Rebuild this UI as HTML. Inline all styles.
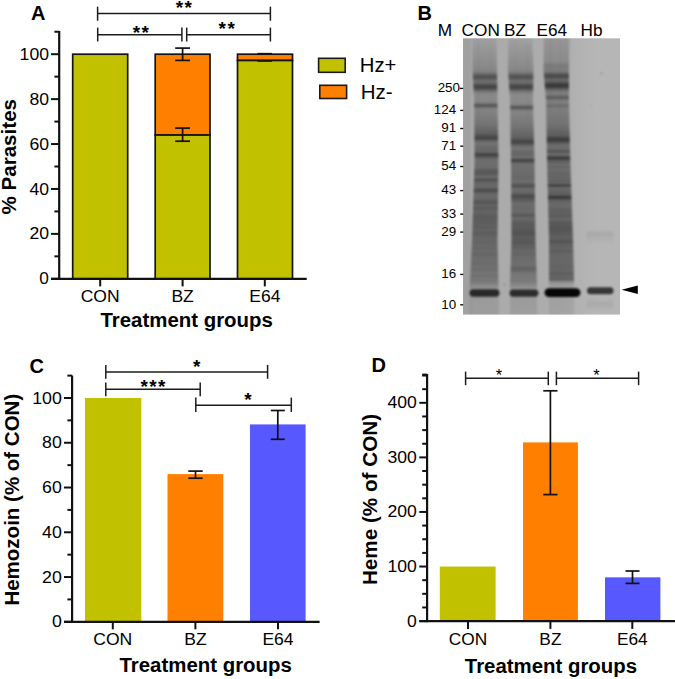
<!DOCTYPE html>
<html><head><meta charset="utf-8"><style>
html,body{margin:0;padding:0;background:#fff;}
svg{display:block;}
text{font-family:"Liberation Sans",sans-serif;fill:#000;}
</style></head><body>
<svg width="675" height="679" viewBox="0 0 675 679">
<defs>
<clipPath id="gclip"><rect x="463" y="38.3" width="157" height="276.3"/></clipPath>
<linearGradient id="gshade" x1="0" y1="0" x2="1" y2="0"><stop offset="0" stop-color="#000" stop-opacity="0.07"/><stop offset="0.6" stop-color="#000" stop-opacity="0.05"/><stop offset="0.8" stop-color="#000" stop-opacity="0.0"/></linearGradient>
<filter id="gblur" x="-10%" y="-10%" width="120%" height="120%"><feGaussianBlur stdDeviation="1.1 0.9"/></filter>
</defs>
<rect width="675" height="679" fill="#fff"/>
<text x="31.00" y="20.00" font-size="20" text-anchor="start" font-weight="bold">A</text>
<rect x="72.70" y="54.20" width="55.00" height="224.60" fill="#c1c100" stroke="#141414" stroke-width="1.7"/>
<rect x="155.20" y="54.20" width="54.80" height="80.86" fill="#ff8000" stroke="#141414" stroke-width="1.7"/>
<rect x="155.20" y="135.06" width="54.80" height="143.74" fill="#c1c100" stroke="#141414" stroke-width="1.7"/>
<rect x="237.50" y="54.20" width="55.00" height="6.29" fill="#ff8000" stroke="#141414" stroke-width="1.7"/>
<rect x="237.50" y="60.49" width="55.00" height="218.31" fill="#c1c100" stroke="#141414" stroke-width="1.7"/>
<line x1="182.60" y1="128.10" x2="182.60" y2="141.20" stroke="#111" stroke-width="1.7"/>
<line x1="175.20" y1="128.10" x2="190.00" y2="128.10" stroke="#111" stroke-width="1.7"/>
<line x1="175.20" y1="141.20" x2="190.00" y2="141.20" stroke="#111" stroke-width="1.7"/>
<line x1="182.60" y1="48.10" x2="182.60" y2="60.40" stroke="#111" stroke-width="1.7"/>
<line x1="175.20" y1="48.10" x2="190.00" y2="48.10" stroke="#111" stroke-width="1.7"/>
<line x1="175.20" y1="60.40" x2="190.00" y2="60.40" stroke="#111" stroke-width="1.7"/>
<line x1="257.40" y1="53.70" x2="271.90" y2="53.70" stroke="#111" stroke-width="1.7"/>
<line x1="257.40" y1="60.90" x2="271.90" y2="60.90" stroke="#111" stroke-width="1.7"/>
<line x1="59.20" y1="31.00" x2="59.20" y2="279.90" stroke="#111" stroke-width="2.2"/>
<line x1="51.00" y1="278.80" x2="306.70" y2="278.80" stroke="#111" stroke-width="2.2"/>
<line x1="51.00" y1="278.80" x2="59.20" y2="278.80" stroke="#111" stroke-width="2.0"/>
<line x1="54.40" y1="256.34" x2="59.20" y2="256.34" stroke="#111" stroke-width="2.0"/>
<line x1="51.00" y1="233.88" x2="59.20" y2="233.88" stroke="#111" stroke-width="2.0"/>
<text x="49.00" y="239.48" font-size="16.3" text-anchor="end" textLength="19.58" lengthAdjust="spacingAndGlyphs">20</text>
<line x1="54.40" y1="211.42" x2="59.20" y2="211.42" stroke="#111" stroke-width="2.0"/>
<line x1="51.00" y1="188.96" x2="59.20" y2="188.96" stroke="#111" stroke-width="2.0"/>
<text x="49.00" y="194.56" font-size="16.3" text-anchor="end" textLength="19.58" lengthAdjust="spacingAndGlyphs">40</text>
<line x1="54.40" y1="166.50" x2="59.20" y2="166.50" stroke="#111" stroke-width="2.0"/>
<line x1="51.00" y1="144.04" x2="59.20" y2="144.04" stroke="#111" stroke-width="2.0"/>
<text x="49.00" y="149.64" font-size="16.3" text-anchor="end" textLength="19.58" lengthAdjust="spacingAndGlyphs">60</text>
<line x1="54.40" y1="121.58" x2="59.20" y2="121.58" stroke="#111" stroke-width="2.0"/>
<line x1="51.00" y1="99.12" x2="59.20" y2="99.12" stroke="#111" stroke-width="2.0"/>
<text x="49.00" y="104.72" font-size="16.3" text-anchor="end" textLength="19.58" lengthAdjust="spacingAndGlyphs">80</text>
<line x1="54.40" y1="76.66" x2="59.20" y2="76.66" stroke="#111" stroke-width="2.0"/>
<line x1="51.00" y1="54.20" x2="59.20" y2="54.20" stroke="#111" stroke-width="2.0"/>
<text x="49.00" y="59.80" font-size="16.3" text-anchor="end" textLength="29.37" lengthAdjust="spacingAndGlyphs">100</text>
<line x1="54.40" y1="31.74" x2="59.20" y2="31.74" stroke="#111" stroke-width="2.0"/>
<text x="49.00" y="284.40" font-size="16.3" text-anchor="end" textLength="9.61" lengthAdjust="spacingAndGlyphs">0</text>
<line x1="100.20" y1="278.80" x2="100.20" y2="286.40" stroke="#111" stroke-width="2.0"/>
<line x1="182.60" y1="278.80" x2="182.60" y2="286.40" stroke="#111" stroke-width="2.0"/>
<line x1="264.80" y1="278.80" x2="264.80" y2="286.40" stroke="#111" stroke-width="2.0"/>
<text x="100.20" y="302.00" font-size="16.3" text-anchor="middle" textLength="38.94" lengthAdjust="spacingAndGlyphs">CON</text>
<text x="182.60" y="302.00" font-size="16.3" text-anchor="middle" textLength="22.39" lengthAdjust="spacingAndGlyphs">BZ</text>
<text x="264.80" y="302.00" font-size="16.3" text-anchor="middle" textLength="31.18" lengthAdjust="spacingAndGlyphs">E64</text>
<text x="100.50" y="327.20" font-size="20" text-anchor="start" font-weight="bold" textLength="172.30" lengthAdjust="spacingAndGlyphs">Treatment groups</text>
<text transform="translate(16.30,214.60) rotate(-90)" font-size="20" font-weight="bold" textLength="115.67" lengthAdjust="spacingAndGlyphs">% Parasites</text>
<line x1="97.60" y1="13.50" x2="270.40" y2="13.50" stroke="#1c1c1c" stroke-width="1.5"/>
<line x1="97.60" y1="6.70" x2="97.60" y2="20.70" stroke="#1c1c1c" stroke-width="1.5"/>
<line x1="270.40" y1="6.70" x2="270.40" y2="20.70" stroke="#1c1c1c" stroke-width="1.5"/>
<line x1="97.70" y1="34.80" x2="181.90" y2="34.80" stroke="#1c1c1c" stroke-width="1.5"/>
<line x1="97.70" y1="27.60" x2="97.70" y2="41.50" stroke="#1c1c1c" stroke-width="1.5"/>
<line x1="181.90" y1="27.60" x2="181.90" y2="41.50" stroke="#1c1c1c" stroke-width="1.5"/>
<line x1="186.70" y1="34.80" x2="270.40" y2="34.80" stroke="#1c1c1c" stroke-width="1.5"/>
<line x1="186.70" y1="27.60" x2="186.70" y2="41.50" stroke="#1c1c1c" stroke-width="1.5"/>
<line x1="270.40" y1="27.60" x2="270.40" y2="41.50" stroke="#1c1c1c" stroke-width="1.5"/>
<text x="184.50" y="14.20" font-size="19" text-anchor="middle" font-weight="bold" letter-spacing="1.4">**</text>
<text x="141.50" y="39.00" font-size="19" text-anchor="middle" font-weight="bold" letter-spacing="1.4">**</text>
<text x="227.40" y="35.40" font-size="19" text-anchor="middle" font-weight="bold" letter-spacing="1.4">**</text>
<rect x="318.60" y="58.30" width="26.60" height="14.00" fill="#c1c100" stroke="#1a1a1a" stroke-width="1.6"/>
<rect x="319.80" y="85.30" width="26.80" height="13.20" fill="#ff8000" stroke="#1a1a1a" stroke-width="1.6"/>
<text x="359.80" y="72.20" font-size="19.5" text-anchor="start" textLength="36.63" lengthAdjust="spacingAndGlyphs">Hz+</text>
<text x="360.80" y="98.80" font-size="19.5" text-anchor="start" textLength="31.84" lengthAdjust="spacingAndGlyphs">Hz-</text>
<text x="417.50" y="20.00" font-size="20" text-anchor="start" font-weight="bold">B</text>
<text x="437.80" y="35.60" font-size="17.2" text-anchor="start">M</text>
<text x="461.60" y="35.60" font-size="17.2" text-anchor="start">CON</text>
<text x="504.00" y="35.60" font-size="17.2" text-anchor="start">BZ</text>
<text x="536.60" y="35.60" font-size="17.2" text-anchor="start">E64</text>
<text x="580.50" y="35.60" font-size="17.2" text-anchor="start">Hb</text>
<rect x="463.0" y="38.3" width="157.0" height="276.3" fill="rgb(182,182,182)"/><g clip-path="url(#gclip)"><g filter="url(#gblur)"><rect x="472.3" y="34" width="24.2" height="1" fill-opacity="0.060"/><rect x="472.3" y="35" width="24.2" height="1" fill-opacity="0.060"/><rect x="472.3" y="36" width="24.2" height="1" fill-opacity="0.060"/><rect x="472.3" y="37" width="24.2" height="1" fill-opacity="0.060"/><rect x="472.3" y="38" width="24.2" height="1" fill-opacity="0.062"/><rect x="472.3" y="39" width="24.2" height="1" fill-opacity="0.068"/><rect x="472.3" y="40" width="24.2" height="1" fill-opacity="0.072"/><rect x="472.3" y="41" width="24.2" height="1" fill-opacity="0.077"/><rect x="472.3" y="42" width="24.2" height="1" fill-opacity="0.082"/><rect x="472.3" y="43" width="24.3" height="1" fill-opacity="0.087"/><rect x="472.3" y="44" width="24.3" height="1" fill-opacity="0.092"/><rect x="472.3" y="45" width="24.3" height="1" fill-opacity="0.097"/><rect x="472.4" y="46" width="24.3" height="1" fill-opacity="0.102"/><rect x="472.4" y="47" width="24.3" height="1" fill-opacity="0.106"/><rect x="472.4" y="48" width="24.3" height="1" fill-opacity="0.111"/><rect x="472.4" y="49" width="24.3" height="1" fill-opacity="0.116"/><rect x="472.4" y="50" width="24.3" height="1" fill-opacity="0.120"/><rect x="472.4" y="51" width="24.3" height="1" fill-opacity="0.125"/><rect x="472.4" y="52" width="24.3" height="1" fill-opacity="0.129"/><rect x="472.4" y="53" width="24.3" height="1" fill-opacity="0.134"/><rect x="472.4" y="54" width="24.4" height="1" fill-opacity="0.139"/><rect x="472.4" y="55" width="24.4" height="1" fill-opacity="0.143"/><rect x="472.4" y="56" width="24.4" height="1" fill-opacity="0.148"/><rect x="472.4" y="57" width="24.4" height="1" fill-opacity="0.153"/><rect x="472.4" y="58" width="24.4" height="1" fill-opacity="0.157"/><rect x="472.4" y="59" width="24.4" height="1" fill-opacity="0.162"/><rect x="472.4" y="60" width="24.4" height="1" fill-opacity="0.167"/><rect x="472.4" y="61" width="24.4" height="1" fill-opacity="0.171"/><rect x="472.5" y="62" width="24.4" height="1" fill-opacity="0.176"/><rect x="472.5" y="63" width="24.4" height="1" fill-opacity="0.181"/><rect x="472.5" y="64" width="24.4" height="1" fill-opacity="0.185"/><rect x="472.5" y="65" width="24.5" height="1" fill-opacity="0.190"/><rect x="472.5" y="66" width="24.5" height="1" fill-opacity="0.195"/><rect x="472.5" y="67" width="24.5" height="1" fill-opacity="0.199"/><rect x="472.5" y="68" width="24.5" height="1" fill-opacity="0.205"/><rect x="472.5" y="69" width="24.5" height="1" fill-opacity="0.213"/><rect x="472.5" y="70" width="24.5" height="1" fill-opacity="0.225"/><rect x="472.6" y="71" width="24.4" height="1" fill-opacity="0.249"/><rect x="472.6" y="72" width="24.4" height="1" fill-opacity="0.286"/><rect x="472.7" y="73" width="24.4" height="1" fill-opacity="0.341"/><rect x="472.7" y="74" width="24.3" height="1" fill-opacity="0.413"/><rect x="472.8" y="75" width="24.3" height="1" fill-opacity="0.482"/><rect x="472.8" y="76" width="24.3" height="1" fill-opacity="0.526"/><rect x="472.9" y="77" width="24.2" height="1" fill-opacity="0.525"/><rect x="472.9" y="78" width="24.2" height="1" fill-opacity="0.483"/><rect x="473.0" y="79" width="24.2" height="1" fill-opacity="0.420"/><rect x="473.0" y="80" width="24.2" height="1" fill-opacity="0.366"/><rect x="473.1" y="81" width="24.1" height="1" fill-opacity="0.344"/><rect x="473.1" y="82" width="24.1" height="1" fill-opacity="0.363"/><rect x="473.2" y="83" width="24.1" height="1" fill-opacity="0.419"/><rect x="473.2" y="84" width="24.0" height="1" fill-opacity="0.494"/><rect x="473.3" y="85" width="24.0" height="1" fill-opacity="0.564"/><rect x="473.3" y="86" width="23.9" height="1" fill-opacity="0.605"/><rect x="473.4" y="87" width="23.9" height="1" fill-opacity="0.603"/><rect x="473.4" y="88" width="23.9" height="1" fill-opacity="0.557"/><rect x="473.5" y="89" width="23.8" height="1" fill-opacity="0.480"/><rect x="473.5" y="90" width="23.8" height="1" fill-opacity="0.393"/><rect x="473.6" y="91" width="23.8" height="1" fill-opacity="0.314"/><rect x="473.6" y="92" width="23.8" height="1" fill-opacity="0.257"/><rect x="473.7" y="93" width="23.7" height="1" fill-opacity="0.222"/><rect x="473.7" y="94" width="23.7" height="1" fill-opacity="0.204"/><rect x="473.8" y="95" width="23.7" height="1" fill-opacity="0.196"/><rect x="473.8" y="96" width="23.6" height="1" fill-opacity="0.194"/><rect x="473.9" y="97" width="23.6" height="1" fill-opacity="0.195"/><rect x="473.9" y="98" width="23.6" height="1" fill-opacity="0.196"/><rect x="474.0" y="99" width="23.5" height="1" fill-opacity="0.199"/><rect x="474.0" y="100" width="23.5" height="1" fill-opacity="0.202"/><rect x="474.0" y="101" width="23.5" height="1" fill-opacity="0.210"/><rect x="474.0" y="102" width="23.5" height="1" fill-opacity="0.240"/><rect x="474.0" y="103" width="23.5" height="1" fill-opacity="0.322"/><rect x="474.0" y="104" width="23.5" height="1" fill-opacity="0.449"/><rect x="474.0" y="105" width="23.5" height="1" fill-opacity="0.518"/><rect x="474.1" y="106" width="23.6" height="1" fill-opacity="0.455"/><rect x="474.1" y="107" width="23.6" height="1" fill-opacity="0.335"/><rect x="474.1" y="108" width="23.6" height="1" fill-opacity="0.260"/><rect x="474.1" y="109" width="23.6" height="1" fill-opacity="0.237"/><rect x="474.1" y="110" width="23.6" height="1" fill-opacity="0.236"/><rect x="474.1" y="111" width="23.6" height="1" fill-opacity="0.238"/><rect x="474.1" y="112" width="23.6" height="1" fill-opacity="0.243"/><rect x="474.1" y="113" width="23.6" height="1" fill-opacity="0.250"/><rect x="474.1" y="114" width="23.6" height="1" fill-opacity="0.257"/><rect x="474.1" y="115" width="23.6" height="1" fill-opacity="0.263"/><rect x="474.1" y="116" width="23.6" height="1" fill-opacity="0.270"/><rect x="474.1" y="117" width="23.6" height="1" fill-opacity="0.277"/><rect x="474.2" y="118" width="23.7" height="1" fill-opacity="0.283"/><rect x="474.2" y="119" width="23.7" height="1" fill-opacity="0.290"/><rect x="474.2" y="120" width="23.7" height="1" fill-opacity="0.297"/><rect x="474.2" y="121" width="23.7" height="1" fill-opacity="0.303"/><rect x="474.2" y="122" width="23.7" height="1" fill-opacity="0.310"/><rect x="474.2" y="123" width="23.7" height="1" fill-opacity="0.317"/><rect x="474.2" y="124" width="23.7" height="1" fill-opacity="0.326"/><rect x="474.2" y="125" width="23.7" height="1" fill-opacity="0.339"/><rect x="474.2" y="126" width="23.7" height="1" fill-opacity="0.351"/><rect x="474.2" y="127" width="23.7" height="1" fill-opacity="0.364"/><rect x="474.2" y="128" width="23.7" height="1" fill-opacity="0.376"/><rect x="474.2" y="129" width="23.7" height="1" fill-opacity="0.389"/><rect x="474.3" y="130" width="23.8" height="1" fill-opacity="0.401"/><rect x="474.3" y="131" width="23.8" height="1" fill-opacity="0.414"/><rect x="474.3" y="132" width="23.8" height="1" fill-opacity="0.428"/><rect x="474.3" y="133" width="23.8" height="1" fill-opacity="0.445"/><rect x="474.3" y="134" width="23.8" height="1" fill-opacity="0.470"/><rect x="474.3" y="135" width="23.8" height="1" fill-opacity="0.511"/><rect x="474.3" y="136" width="23.8" height="1" fill-opacity="0.564"/><rect x="474.3" y="137" width="23.8" height="1" fill-opacity="0.609"/><rect x="474.3" y="138" width="23.8" height="1" fill-opacity="0.597"/><rect x="474.3" y="139" width="23.8" height="1" fill-opacity="0.530"/><rect x="474.3" y="140" width="23.8" height="1" fill-opacity="0.454"/><rect x="474.3" y="141" width="23.8" height="1" fill-opacity="0.391"/><rect x="474.4" y="142" width="23.9" height="1" fill-opacity="0.343"/><rect x="474.4" y="143" width="23.9" height="1" fill-opacity="0.320"/><rect x="474.4" y="144" width="23.9" height="1" fill-opacity="0.324"/><rect x="474.4" y="145" width="23.9" height="1" fill-opacity="0.377"/><rect x="474.4" y="146" width="23.9" height="1" fill-opacity="0.389"/><rect x="474.4" y="147" width="23.9" height="1" fill-opacity="0.351"/><rect x="474.4" y="148" width="23.9" height="1" fill-opacity="0.384"/><rect x="474.4" y="149" width="23.9" height="1" fill-opacity="0.416"/><rect x="474.4" y="150" width="23.9" height="1" fill-opacity="0.390"/><rect x="474.4" y="151" width="23.9" height="1" fill-opacity="0.373"/><rect x="474.4" y="152" width="23.9" height="1" fill-opacity="0.426"/><rect x="474.4" y="153" width="23.9" height="1" fill-opacity="0.561"/><rect x="474.5" y="154" width="24.0" height="1" fill-opacity="0.643"/><rect x="474.5" y="155" width="24.0" height="1" fill-opacity="0.576"/><rect x="474.5" y="156" width="24.0" height="1" fill-opacity="0.511"/><rect x="474.5" y="157" width="24.0" height="1" fill-opacity="0.463"/><rect x="474.5" y="158" width="24.0" height="1" fill-opacity="0.405"/><rect x="474.5" y="159" width="24.0" height="1" fill-opacity="0.365"/><rect x="474.5" y="160" width="24.0" height="1" fill-opacity="0.353"/><rect x="474.5" y="161" width="24.0" height="1" fill-opacity="0.358"/><rect x="474.4" y="162" width="24.0" height="1" fill-opacity="0.360"/><rect x="474.4" y="163" width="24.1" height="1" fill-opacity="0.361"/><rect x="474.4" y="164" width="24.1" height="1" fill-opacity="0.362"/><rect x="474.3" y="165" width="24.1" height="1" fill-opacity="0.363"/><rect x="474.3" y="166" width="24.1" height="1" fill-opacity="0.364"/><rect x="474.3" y="167" width="24.1" height="1" fill-opacity="0.366"/><rect x="474.2" y="168" width="24.2" height="1" fill-opacity="0.383"/><rect x="474.2" y="169" width="24.2" height="1" fill-opacity="0.431"/><rect x="474.2" y="170" width="24.2" height="1" fill-opacity="0.495"/><rect x="474.1" y="171" width="24.2" height="1" fill-opacity="0.495"/><rect x="474.1" y="172" width="24.2" height="1" fill-opacity="0.438"/><rect x="474.1" y="173" width="24.3" height="1" fill-opacity="0.494"/><rect x="474.0" y="174" width="24.3" height="1" fill-opacity="0.500"/><rect x="474.0" y="175" width="24.3" height="1" fill-opacity="0.383"/><rect x="474.0" y="176" width="24.3" height="1" fill-opacity="0.376"/><rect x="474.0" y="177" width="24.3" height="1" fill-opacity="0.396"/><rect x="473.9" y="178" width="24.3" height="1" fill-opacity="0.454"/><rect x="473.9" y="179" width="24.4" height="1" fill-opacity="0.523"/><rect x="473.9" y="180" width="24.4" height="1" fill-opacity="0.524"/><rect x="473.8" y="181" width="24.4" height="1" fill-opacity="0.456"/><rect x="473.8" y="182" width="24.4" height="1" fill-opacity="0.400"/><rect x="473.8" y="183" width="24.4" height="1" fill-opacity="0.384"/><rect x="473.7" y="184" width="24.5" height="1" fill-opacity="0.421"/><rect x="473.7" y="185" width="24.5" height="1" fill-opacity="0.386"/><rect x="473.7" y="186" width="24.5" height="1" fill-opacity="0.384"/><rect x="473.6" y="187" width="24.5" height="1" fill-opacity="0.400"/><rect x="473.6" y="188" width="24.5" height="1" fill-opacity="0.449"/><rect x="473.6" y="189" width="24.6" height="1" fill-opacity="0.537"/><rect x="473.5" y="190" width="24.6" height="1" fill-opacity="0.580"/><rect x="473.5" y="191" width="24.6" height="1" fill-opacity="0.526"/><rect x="473.5" y="192" width="24.6" height="1" fill-opacity="0.452"/><rect x="473.5" y="193" width="24.6" height="1" fill-opacity="0.405"/><rect x="473.4" y="194" width="24.6" height="1" fill-opacity="0.390"/><rect x="473.4" y="195" width="24.7" height="1" fill-opacity="0.388"/><rect x="473.4" y="196" width="24.7" height="1" fill-opacity="0.389"/><rect x="473.3" y="197" width="24.7" height="1" fill-opacity="0.390"/><rect x="473.3" y="198" width="24.7" height="1" fill-opacity="0.400"/><rect x="473.3" y="199" width="24.7" height="1" fill-opacity="0.426"/><rect x="473.2" y="200" width="24.8" height="1" fill-opacity="0.446"/><rect x="473.2" y="201" width="24.8" height="1" fill-opacity="0.483"/><rect x="473.2" y="202" width="24.8" height="1" fill-opacity="0.514"/><rect x="473.1" y="203" width="24.8" height="1" fill-opacity="0.480"/><rect x="473.1" y="204" width="24.8" height="1" fill-opacity="0.426"/><rect x="473.1" y="205" width="24.9" height="1" fill-opacity="0.408"/><rect x="473.0" y="206" width="24.9" height="1" fill-opacity="0.437"/><rect x="473.0" y="207" width="24.9" height="1" fill-opacity="0.454"/><rect x="473.0" y="208" width="24.9" height="1" fill-opacity="0.487"/><rect x="473.0" y="209" width="24.9" height="1" fill-opacity="0.443"/><rect x="472.9" y="210" width="24.9" height="1" fill-opacity="0.412"/><rect x="472.9" y="211" width="25.0" height="1" fill-opacity="0.414"/><rect x="472.9" y="212" width="25.0" height="1" fill-opacity="0.419"/><rect x="472.8" y="213" width="25.0" height="1" fill-opacity="0.425"/><rect x="472.8" y="214" width="25.0" height="1" fill-opacity="0.436"/><rect x="472.8" y="215" width="25.0" height="1" fill-opacity="0.464"/><rect x="472.7" y="216" width="25.1" height="1" fill-opacity="0.477"/><rect x="472.7" y="217" width="25.1" height="1" fill-opacity="0.459"/><rect x="472.7" y="218" width="25.1" height="1" fill-opacity="0.458"/><rect x="472.6" y="219" width="25.1" height="1" fill-opacity="0.460"/><rect x="472.6" y="220" width="25.1" height="1" fill-opacity="0.460"/><rect x="472.6" y="221" width="25.2" height="1" fill-opacity="0.457"/><rect x="472.5" y="222" width="25.2" height="1" fill-opacity="0.453"/><rect x="472.5" y="223" width="25.2" height="1" fill-opacity="0.447"/><rect x="472.5" y="224" width="25.2" height="1" fill-opacity="0.440"/><rect x="472.5" y="225" width="25.2" height="1" fill-opacity="0.433"/><rect x="472.4" y="226" width="25.2" height="1" fill-opacity="0.441"/><rect x="472.4" y="227" width="25.3" height="1" fill-opacity="0.474"/><rect x="472.4" y="228" width="25.3" height="1" fill-opacity="0.430"/><rect x="472.3" y="229" width="25.3" height="1" fill-opacity="0.413"/><rect x="472.3" y="230" width="25.3" height="1" fill-opacity="0.425"/><rect x="472.3" y="231" width="25.3" height="1" fill-opacity="0.431"/><rect x="472.2" y="232" width="25.4" height="1" fill-opacity="0.456"/><rect x="472.2" y="233" width="25.4" height="1" fill-opacity="0.461"/><rect x="472.2" y="234" width="25.4" height="1" fill-opacity="0.431"/><rect x="472.1" y="235" width="25.4" height="1" fill-opacity="0.438"/><rect x="472.1" y="236" width="25.4" height="1" fill-opacity="0.416"/><rect x="472.1" y="237" width="25.5" height="1" fill-opacity="0.401"/><rect x="472.0" y="238" width="25.5" height="1" fill-opacity="0.400"/><rect x="472.0" y="239" width="25.5" height="1" fill-opacity="0.400"/><rect x="472.0" y="240" width="25.5" height="1" fill-opacity="0.400"/><rect x="471.9" y="241" width="25.6" height="1" fill-opacity="0.416"/><rect x="471.9" y="242" width="25.7" height="1" fill-opacity="0.413"/><rect x="471.8" y="243" width="25.7" height="1" fill-opacity="0.394"/><rect x="471.8" y="244" width="25.8" height="1" fill-opacity="0.391"/><rect x="471.8" y="245" width="25.9" height="1" fill-opacity="0.389"/><rect x="471.7" y="246" width="25.9" height="1" fill-opacity="0.387"/><rect x="471.7" y="247" width="26.0" height="1" fill-opacity="0.386"/><rect x="471.6" y="248" width="26.1" height="1" fill-opacity="0.404"/><rect x="471.6" y="249" width="26.1" height="1" fill-opacity="0.392"/><rect x="471.5" y="250" width="26.2" height="1" fill-opacity="0.379"/><rect x="471.5" y="251" width="26.3" height="1" fill-opacity="0.377"/><rect x="471.4" y="252" width="26.3" height="1" fill-opacity="0.377"/><rect x="471.4" y="253" width="26.4" height="1" fill-opacity="0.402"/><rect x="471.4" y="254" width="26.5" height="1" fill-opacity="0.405"/><rect x="471.3" y="255" width="26.5" height="1" fill-opacity="0.404"/><rect x="471.3" y="256" width="26.6" height="1" fill-opacity="0.369"/><rect x="471.2" y="257" width="26.7" height="1" fill-opacity="0.365"/><rect x="471.2" y="258" width="26.7" height="1" fill-opacity="0.363"/><rect x="471.1" y="259" width="26.8" height="1" fill-opacity="0.361"/><rect x="471.1" y="260" width="26.9" height="1" fill-opacity="0.359"/><rect x="471.0" y="261" width="26.9" height="1" fill-opacity="0.357"/><rect x="471.0" y="262" width="27.0" height="1" fill-opacity="0.357"/><rect x="471.0" y="263" width="27.1" height="1" fill-opacity="0.376"/><rect x="470.9" y="264" width="27.1" height="1" fill-opacity="0.359"/><rect x="470.9" y="265" width="27.2" height="1" fill-opacity="0.349"/><rect x="470.8" y="266" width="27.3" height="1" fill-opacity="0.347"/><rect x="470.8" y="267" width="27.3" height="1" fill-opacity="0.347"/><rect x="470.7" y="268" width="27.4" height="1" fill-opacity="0.357"/><rect x="470.7" y="269" width="27.5" height="1" fill-opacity="0.368"/><rect x="470.6" y="270" width="27.5" height="1" fill-opacity="0.349"/><rect x="470.6" y="271" width="27.6" height="1" fill-opacity="0.332"/><rect x="470.6" y="272" width="27.7" height="1" fill-opacity="0.325"/><rect x="470.5" y="273" width="27.7" height="1" fill-opacity="0.319"/><rect x="470.5" y="274" width="27.8" height="1" fill-opacity="0.316"/><rect x="470.4" y="275" width="27.9" height="1" fill-opacity="0.335"/><rect x="470.4" y="276" width="27.9" height="1" fill-opacity="0.357"/><rect x="470.3" y="277" width="28.0" height="1" fill-opacity="0.311"/><rect x="470.3" y="278" width="28.1" height="1" fill-opacity="0.299"/><rect x="470.2" y="279" width="28.1" height="1" fill-opacity="0.307"/><rect x="470.2" y="280" width="28.2" height="1" fill-opacity="0.297"/><rect x="470.2" y="281" width="28.3" height="1" fill-opacity="0.304"/><rect x="470.1" y="282" width="28.3" height="1" fill-opacity="0.277"/><rect x="470.1" y="283" width="28.4" height="1" fill-opacity="0.240"/><rect x="470.0" y="284" width="28.5" height="1" fill-opacity="0.220"/><rect x="470.0" y="285" width="28.5" height="1" fill-opacity="0.207"/><rect x="470.0" y="286" width="28.5" height="1" fill-opacity="0.183"/><rect x="470.0" y="287" width="28.5" height="1" fill-opacity="0.150"/><rect x="470.0" y="288" width="28.6" height="1" fill-opacity="0.117"/><rect x="470.0" y="289" width="28.6" height="1" fill-opacity="0.100"/><rect x="470.0" y="290" width="28.6" height="1" fill-opacity="0.099"/><rect x="470.0" y="291" width="28.6" height="1" fill-opacity="0.098"/><rect x="470.0" y="292" width="28.6" height="1" fill-opacity="0.097"/><rect x="470.0" y="293" width="28.6" height="1" fill-opacity="0.097"/><rect x="470.0" y="294" width="28.7" height="1" fill-opacity="0.096"/><rect x="470.0" y="295" width="28.7" height="1" fill-opacity="0.095"/><rect x="470.0" y="296" width="28.7" height="1" fill-opacity="0.094"/><rect x="470.0" y="297" width="28.7" height="1" fill-opacity="0.093"/><rect x="470.0" y="298" width="28.7" height="1" fill-opacity="0.093"/><rect x="470.0" y="299" width="28.7" height="1" fill-opacity="0.092"/><rect x="470.0" y="300" width="28.8" height="1" fill-opacity="0.091"/><rect x="470.0" y="301" width="28.8" height="1" fill-opacity="0.090"/><rect x="470.0" y="302" width="28.8" height="1" fill-opacity="0.090"/><rect x="470.0" y="303" width="28.8" height="1" fill-opacity="0.089"/><rect x="470.0" y="304" width="28.8" height="1" fill-opacity="0.088"/><rect x="470.0" y="305" width="28.8" height="1" fill-opacity="0.087"/><rect x="470.0" y="306" width="28.9" height="1" fill-opacity="0.087"/><rect x="470.0" y="307" width="28.9" height="1" fill-opacity="0.086"/><rect x="470.0" y="308" width="28.9" height="1" fill-opacity="0.085"/><rect x="470.0" y="309" width="28.9" height="1" fill-opacity="0.084"/><rect x="470.0" y="310" width="28.9" height="1" fill-opacity="0.083"/><rect x="470.0" y="311" width="28.9" height="1" fill-opacity="0.083"/><rect x="470.0" y="312" width="29.0" height="1" fill-opacity="0.082"/><rect x="470.0" y="313" width="29.0" height="1" fill-opacity="0.081"/><rect x="470.0" y="314" width="29.0" height="1" fill-opacity="0.080"/><rect x="470.0" y="315" width="29.0" height="1" fill-opacity="0.080"/><rect x="470.0" y="316" width="29.0" height="1" fill-opacity="0.080"/><rect x="470.0" y="317" width="29.0" height="1" fill-opacity="0.080"/><rect x="508.2" y="34" width="24.2" height="1" fill-opacity="0.060"/><rect x="508.2" y="35" width="24.2" height="1" fill-opacity="0.060"/><rect x="508.2" y="36" width="24.2" height="1" fill-opacity="0.060"/><rect x="508.2" y="37" width="24.2" height="1" fill-opacity="0.060"/><rect x="508.2" y="38" width="24.2" height="1" fill-opacity="0.062"/><rect x="508.2" y="39" width="24.3" height="1" fill-opacity="0.068"/><rect x="508.2" y="40" width="24.3" height="1" fill-opacity="0.072"/><rect x="508.2" y="41" width="24.3" height="1" fill-opacity="0.077"/><rect x="508.2" y="42" width="24.4" height="1" fill-opacity="0.082"/><rect x="508.2" y="43" width="24.4" height="1" fill-opacity="0.087"/><rect x="508.2" y="44" width="24.5" height="1" fill-opacity="0.092"/><rect x="508.2" y="45" width="24.5" height="1" fill-opacity="0.097"/><rect x="508.1" y="46" width="24.5" height="1" fill-opacity="0.102"/><rect x="508.1" y="47" width="24.6" height="1" fill-opacity="0.106"/><rect x="508.1" y="48" width="24.6" height="1" fill-opacity="0.111"/><rect x="508.1" y="49" width="24.7" height="1" fill-opacity="0.116"/><rect x="508.1" y="50" width="24.7" height="1" fill-opacity="0.120"/><rect x="508.1" y="51" width="24.7" height="1" fill-opacity="0.125"/><rect x="508.1" y="52" width="24.8" height="1" fill-opacity="0.129"/><rect x="508.1" y="53" width="24.8" height="1" fill-opacity="0.134"/><rect x="508.1" y="54" width="24.9" height="1" fill-opacity="0.139"/><rect x="508.1" y="55" width="24.9" height="1" fill-opacity="0.143"/><rect x="508.1" y="56" width="25.0" height="1" fill-opacity="0.148"/><rect x="508.1" y="57" width="25.0" height="1" fill-opacity="0.153"/><rect x="508.1" y="58" width="25.0" height="1" fill-opacity="0.157"/><rect x="508.1" y="59" width="25.1" height="1" fill-opacity="0.162"/><rect x="508.1" y="60" width="25.1" height="1" fill-opacity="0.167"/><rect x="508.1" y="61" width="25.2" height="1" fill-opacity="0.171"/><rect x="508.0" y="62" width="25.2" height="1" fill-opacity="0.176"/><rect x="508.0" y="63" width="25.2" height="1" fill-opacity="0.181"/><rect x="508.0" y="64" width="25.3" height="1" fill-opacity="0.185"/><rect x="508.0" y="65" width="25.3" height="1" fill-opacity="0.190"/><rect x="508.0" y="66" width="25.4" height="1" fill-opacity="0.195"/><rect x="508.0" y="67" width="25.4" height="1" fill-opacity="0.199"/><rect x="508.0" y="68" width="25.4" height="1" fill-opacity="0.205"/><rect x="508.0" y="69" width="25.5" height="1" fill-opacity="0.213"/><rect x="508.0" y="70" width="25.5" height="1" fill-opacity="0.225"/><rect x="508.1" y="71" width="25.4" height="1" fill-opacity="0.249"/><rect x="508.2" y="72" width="25.3" height="1" fill-opacity="0.286"/><rect x="508.2" y="73" width="25.2" height="1" fill-opacity="0.341"/><rect x="508.3" y="74" width="25.1" height="1" fill-opacity="0.413"/><rect x="508.4" y="75" width="25.0" height="1" fill-opacity="0.482"/><rect x="508.4" y="76" width="25.0" height="1" fill-opacity="0.526"/><rect x="508.5" y="77" width="24.9" height="1" fill-opacity="0.525"/><rect x="508.6" y="78" width="24.8" height="1" fill-opacity="0.483"/><rect x="508.6" y="79" width="24.7" height="1" fill-opacity="0.420"/><rect x="508.7" y="80" width="24.6" height="1" fill-opacity="0.366"/><rect x="508.8" y="81" width="24.5" height="1" fill-opacity="0.344"/><rect x="508.8" y="82" width="24.5" height="1" fill-opacity="0.363"/><rect x="508.9" y="83" width="24.4" height="1" fill-opacity="0.419"/><rect x="509.0" y="84" width="24.3" height="1" fill-opacity="0.494"/><rect x="509.0" y="85" width="24.2" height="1" fill-opacity="0.564"/><rect x="509.1" y="86" width="24.1" height="1" fill-opacity="0.605"/><rect x="509.2" y="87" width="24.0" height="1" fill-opacity="0.603"/><rect x="509.2" y="88" width="24.0" height="1" fill-opacity="0.557"/><rect x="509.3" y="89" width="23.9" height="1" fill-opacity="0.480"/><rect x="509.4" y="90" width="23.8" height="1" fill-opacity="0.393"/><rect x="509.4" y="91" width="23.7" height="1" fill-opacity="0.314"/><rect x="509.5" y="92" width="23.6" height="1" fill-opacity="0.257"/><rect x="509.6" y="93" width="23.5" height="1" fill-opacity="0.222"/><rect x="509.6" y="94" width="23.5" height="1" fill-opacity="0.204"/><rect x="509.7" y="95" width="23.4" height="1" fill-opacity="0.196"/><rect x="509.8" y="96" width="23.3" height="1" fill-opacity="0.194"/><rect x="509.8" y="97" width="23.2" height="1" fill-opacity="0.195"/><rect x="509.9" y="98" width="23.1" height="1" fill-opacity="0.196"/><rect x="510.0" y="99" width="23.0" height="1" fill-opacity="0.199"/><rect x="510.0" y="100" width="23.0" height="1" fill-opacity="0.201"/><rect x="510.0" y="101" width="23.0" height="1" fill-opacity="0.204"/><rect x="510.0" y="102" width="23.0" height="1" fill-opacity="0.208"/><rect x="510.1" y="103" width="23.0" height="1" fill-opacity="0.215"/><rect x="510.1" y="104" width="23.0" height="1" fill-opacity="0.244"/><rect x="510.1" y="105" width="23.0" height="1" fill-opacity="0.326"/><rect x="510.1" y="106" width="23.1" height="1" fill-opacity="0.452"/><rect x="510.1" y="107" width="23.1" height="1" fill-opacity="0.521"/><rect x="510.1" y="108" width="23.1" height="1" fill-opacity="0.458"/><rect x="510.2" y="109" width="23.1" height="1" fill-opacity="0.338"/><rect x="510.2" y="110" width="23.1" height="1" fill-opacity="0.262"/><rect x="510.2" y="111" width="23.1" height="1" fill-opacity="0.238"/><rect x="510.2" y="112" width="23.1" height="1" fill-opacity="0.236"/><rect x="510.2" y="113" width="23.1" height="1" fill-opacity="0.239"/><rect x="510.2" y="114" width="23.1" height="1" fill-opacity="0.243"/><rect x="510.3" y="115" width="23.1" height="1" fill-opacity="0.250"/><rect x="510.3" y="116" width="23.1" height="1" fill-opacity="0.257"/><rect x="510.3" y="117" width="23.1" height="1" fill-opacity="0.263"/><rect x="510.3" y="118" width="23.2" height="1" fill-opacity="0.270"/><rect x="510.3" y="119" width="23.2" height="1" fill-opacity="0.277"/><rect x="510.3" y="120" width="23.2" height="1" fill-opacity="0.283"/><rect x="510.4" y="121" width="23.2" height="1" fill-opacity="0.290"/><rect x="510.4" y="122" width="23.2" height="1" fill-opacity="0.297"/><rect x="510.4" y="123" width="23.2" height="1" fill-opacity="0.303"/><rect x="510.4" y="124" width="23.2" height="1" fill-opacity="0.310"/><rect x="510.4" y="125" width="23.2" height="1" fill-opacity="0.317"/><rect x="510.4" y="126" width="23.2" height="1" fill-opacity="0.325"/><rect x="510.5" y="127" width="23.2" height="1" fill-opacity="0.335"/><rect x="510.5" y="128" width="23.2" height="1" fill-opacity="0.345"/><rect x="510.5" y="129" width="23.2" height="1" fill-opacity="0.355"/><rect x="510.5" y="130" width="23.3" height="1" fill-opacity="0.365"/><rect x="510.5" y="131" width="23.3" height="1" fill-opacity="0.375"/><rect x="510.5" y="132" width="23.3" height="1" fill-opacity="0.385"/><rect x="510.6" y="133" width="23.3" height="1" fill-opacity="0.395"/><rect x="510.6" y="134" width="23.3" height="1" fill-opacity="0.405"/><rect x="510.6" y="135" width="23.3" height="1" fill-opacity="0.415"/><rect x="510.6" y="136" width="23.3" height="1" fill-opacity="0.428"/><rect x="510.6" y="137" width="23.3" height="1" fill-opacity="0.445"/><rect x="510.6" y="138" width="23.3" height="1" fill-opacity="0.470"/><rect x="510.7" y="139" width="23.3" height="1" fill-opacity="0.511"/><rect x="510.7" y="140" width="23.3" height="1" fill-opacity="0.564"/><rect x="510.7" y="141" width="23.3" height="1" fill-opacity="0.609"/><rect x="510.7" y="142" width="23.4" height="1" fill-opacity="0.600"/><rect x="510.7" y="143" width="23.4" height="1" fill-opacity="0.539"/><rect x="510.7" y="144" width="23.4" height="1" fill-opacity="0.469"/><rect x="510.8" y="145" width="23.4" height="1" fill-opacity="0.412"/><rect x="510.8" y="146" width="23.4" height="1" fill-opacity="0.370"/><rect x="510.8" y="147" width="23.4" height="1" fill-opacity="0.336"/><rect x="510.8" y="148" width="23.4" height="1" fill-opacity="0.319"/><rect x="510.8" y="149" width="23.4" height="1" fill-opacity="0.323"/><rect x="510.8" y="150" width="23.4" height="1" fill-opacity="0.366"/><rect x="510.9" y="151" width="23.4" height="1" fill-opacity="0.422"/><rect x="510.9" y="152" width="23.4" height="1" fill-opacity="0.389"/><rect x="510.9" y="153" width="23.4" height="1" fill-opacity="0.356"/><rect x="510.9" y="154" width="23.5" height="1" fill-opacity="0.454"/><rect x="510.9" y="155" width="23.5" height="1" fill-opacity="0.378"/><rect x="510.9" y="156" width="23.5" height="1" fill-opacity="0.331"/><rect x="511.0" y="157" width="23.5" height="1" fill-opacity="0.363"/><rect x="511.0" y="158" width="23.5" height="1" fill-opacity="0.432"/><rect x="511.0" y="159" width="23.5" height="1" fill-opacity="0.545"/><rect x="511.0" y="160" width="23.5" height="1" fill-opacity="0.634"/><rect x="511.0" y="161" width="23.5" height="1" fill-opacity="0.579"/><rect x="511.0" y="162" width="23.5" height="1" fill-opacity="0.454"/><rect x="511.0" y="163" width="23.5" height="1" fill-opacity="0.378"/><rect x="511.0" y="164" width="23.5" height="1" fill-opacity="0.358"/><rect x="511.0" y="165" width="23.5" height="1" fill-opacity="0.358"/><rect x="511.0" y="166" width="23.5" height="1" fill-opacity="0.360"/><rect x="511.0" y="167" width="23.5" height="1" fill-opacity="0.361"/><rect x="511.1" y="168" width="23.6" height="1" fill-opacity="0.361"/><rect x="511.1" y="169" width="23.6" height="1" fill-opacity="0.362"/><rect x="511.1" y="170" width="23.6" height="1" fill-opacity="0.363"/><rect x="511.1" y="171" width="23.6" height="1" fill-opacity="0.375"/><rect x="511.1" y="172" width="23.6" height="1" fill-opacity="0.390"/><rect x="511.1" y="173" width="23.6" height="1" fill-opacity="0.369"/><rect x="511.1" y="174" width="23.6" height="1" fill-opacity="0.365"/><rect x="511.1" y="175" width="23.6" height="1" fill-opacity="0.388"/><rect x="511.1" y="176" width="23.6" height="1" fill-opacity="0.405"/><rect x="511.1" y="177" width="23.6" height="1" fill-opacity="0.390"/><rect x="511.1" y="178" width="23.6" height="1" fill-opacity="0.402"/><rect x="511.1" y="179" width="23.6" height="1" fill-opacity="0.372"/><rect x="511.1" y="180" width="23.6" height="1" fill-opacity="0.367"/><rect x="511.1" y="181" width="23.6" height="1" fill-opacity="0.368"/><rect x="511.1" y="182" width="23.6" height="1" fill-opacity="0.373"/><rect x="511.1" y="183" width="23.6" height="1" fill-opacity="0.423"/><rect x="511.2" y="184" width="23.7" height="1" fill-opacity="0.471"/><rect x="511.2" y="185" width="23.7" height="1" fill-opacity="0.531"/><rect x="511.2" y="186" width="23.7" height="1" fill-opacity="0.529"/><rect x="511.2" y="187" width="23.7" height="1" fill-opacity="0.457"/><rect x="511.2" y="188" width="23.7" height="1" fill-opacity="0.393"/><rect x="511.2" y="189" width="23.7" height="1" fill-opacity="0.374"/><rect x="511.2" y="190" width="23.7" height="1" fill-opacity="0.376"/><rect x="511.2" y="191" width="23.7" height="1" fill-opacity="0.392"/><rect x="511.2" y="192" width="23.7" height="1" fill-opacity="0.405"/><rect x="511.2" y="193" width="23.7" height="1" fill-opacity="0.433"/><rect x="511.2" y="194" width="23.7" height="1" fill-opacity="0.505"/><rect x="511.2" y="195" width="23.7" height="1" fill-opacity="0.574"/><rect x="511.2" y="196" width="23.7" height="1" fill-opacity="0.572"/><rect x="511.2" y="197" width="23.7" height="1" fill-opacity="0.528"/><rect x="511.2" y="198" width="23.7" height="1" fill-opacity="0.501"/><rect x="511.2" y="199" width="23.7" height="1" fill-opacity="0.479"/><rect x="511.3" y="200" width="23.8" height="1" fill-opacity="0.457"/><rect x="511.3" y="201" width="23.8" height="1" fill-opacity="0.433"/><rect x="511.3" y="202" width="23.8" height="1" fill-opacity="0.392"/><rect x="511.3" y="203" width="23.8" height="1" fill-opacity="0.378"/><rect x="511.3" y="204" width="23.8" height="1" fill-opacity="0.378"/><rect x="511.3" y="205" width="23.8" height="1" fill-opacity="0.378"/><rect x="511.3" y="206" width="23.8" height="1" fill-opacity="0.382"/><rect x="511.3" y="207" width="23.8" height="1" fill-opacity="0.396"/><rect x="511.3" y="208" width="23.8" height="1" fill-opacity="0.400"/><rect x="511.3" y="209" width="23.8" height="1" fill-opacity="0.386"/><rect x="511.3" y="210" width="23.8" height="1" fill-opacity="0.381"/><rect x="511.3" y="211" width="23.8" height="1" fill-opacity="0.382"/><rect x="511.3" y="212" width="23.8" height="1" fill-opacity="0.391"/><rect x="511.3" y="213" width="23.8" height="1" fill-opacity="0.430"/><rect x="511.3" y="214" width="23.8" height="1" fill-opacity="0.452"/><rect x="511.3" y="215" width="23.8" height="1" fill-opacity="0.520"/><rect x="511.4" y="216" width="23.9" height="1" fill-opacity="0.442"/><rect x="511.4" y="217" width="23.9" height="1" fill-opacity="0.398"/><rect x="511.4" y="218" width="23.9" height="1" fill-opacity="0.397"/><rect x="511.4" y="219" width="23.9" height="1" fill-opacity="0.400"/><rect x="511.4" y="220" width="23.9" height="1" fill-opacity="0.410"/><rect x="511.4" y="221" width="23.9" height="1" fill-opacity="0.446"/><rect x="511.4" y="222" width="23.9" height="1" fill-opacity="0.467"/><rect x="511.4" y="223" width="23.9" height="1" fill-opacity="0.466"/><rect x="511.4" y="224" width="23.9" height="1" fill-opacity="0.460"/><rect x="511.4" y="225" width="23.9" height="1" fill-opacity="0.473"/><rect x="511.4" y="226" width="23.9" height="1" fill-opacity="0.465"/><rect x="511.4" y="227" width="23.9" height="1" fill-opacity="0.470"/><rect x="511.4" y="228" width="23.9" height="1" fill-opacity="0.483"/><rect x="511.4" y="229" width="23.9" height="1" fill-opacity="0.483"/><rect x="511.4" y="230" width="23.9" height="1" fill-opacity="0.510"/><rect x="511.4" y="231" width="23.9" height="1" fill-opacity="0.489"/><rect x="511.5" y="232" width="24.0" height="1" fill-opacity="0.521"/><rect x="511.5" y="233" width="24.0" height="1" fill-opacity="0.523"/><rect x="511.5" y="234" width="24.0" height="1" fill-opacity="0.512"/><rect x="511.5" y="235" width="24.0" height="1" fill-opacity="0.482"/><rect x="511.5" y="236" width="24.0" height="1" fill-opacity="0.476"/><rect x="511.5" y="237" width="24.0" height="1" fill-opacity="0.471"/><rect x="511.5" y="238" width="24.0" height="1" fill-opacity="0.470"/><rect x="511.5" y="239" width="24.0" height="1" fill-opacity="0.487"/><rect x="511.5" y="240" width="24.0" height="1" fill-opacity="0.474"/><rect x="511.4" y="241" width="24.1" height="1" fill-opacity="0.480"/><rect x="511.4" y="242" width="24.2" height="1" fill-opacity="0.500"/><rect x="511.4" y="243" width="24.2" height="1" fill-opacity="0.496"/><rect x="511.4" y="244" width="24.3" height="1" fill-opacity="0.459"/><rect x="511.3" y="245" width="24.4" height="1" fill-opacity="0.442"/><rect x="511.3" y="246" width="24.4" height="1" fill-opacity="0.436"/><rect x="511.2" y="247" width="24.5" height="1" fill-opacity="0.448"/><rect x="511.2" y="248" width="24.6" height="1" fill-opacity="0.432"/><rect x="511.2" y="249" width="24.6" height="1" fill-opacity="0.419"/><rect x="511.1" y="250" width="24.7" height="1" fill-opacity="0.394"/><rect x="511.1" y="251" width="24.8" height="1" fill-opacity="0.390"/><rect x="511.1" y="252" width="24.8" height="1" fill-opacity="0.391"/><rect x="511.1" y="253" width="24.9" height="1" fill-opacity="0.407"/><rect x="511.0" y="254" width="25.0" height="1" fill-opacity="0.418"/><rect x="511.0" y="255" width="25.0" height="1" fill-opacity="0.394"/><rect x="510.9" y="256" width="25.1" height="1" fill-opacity="0.378"/><rect x="510.9" y="257" width="25.2" height="1" fill-opacity="0.373"/><rect x="510.9" y="258" width="25.2" height="1" fill-opacity="0.371"/><rect x="510.9" y="259" width="25.3" height="1" fill-opacity="0.368"/><rect x="510.8" y="260" width="25.4" height="1" fill-opacity="0.365"/><rect x="510.8" y="261" width="25.4" height="1" fill-opacity="0.363"/><rect x="510.8" y="262" width="25.5" height="1" fill-opacity="0.360"/><rect x="510.7" y="263" width="25.6" height="1" fill-opacity="0.357"/><rect x="510.7" y="264" width="25.6" height="1" fill-opacity="0.355"/><rect x="510.6" y="265" width="25.7" height="1" fill-opacity="0.355"/><rect x="510.6" y="266" width="25.8" height="1" fill-opacity="0.374"/><rect x="510.6" y="267" width="25.8" height="1" fill-opacity="0.433"/><rect x="510.6" y="268" width="25.9" height="1" fill-opacity="0.427"/><rect x="510.5" y="269" width="26.0" height="1" fill-opacity="0.422"/><rect x="510.5" y="270" width="26.0" height="1" fill-opacity="0.425"/><rect x="510.4" y="271" width="26.1" height="1" fill-opacity="0.372"/><rect x="510.4" y="272" width="26.2" height="1" fill-opacity="0.329"/><rect x="510.4" y="273" width="26.2" height="1" fill-opacity="0.319"/><rect x="510.4" y="274" width="26.3" height="1" fill-opacity="0.313"/><rect x="510.3" y="275" width="26.4" height="1" fill-opacity="0.307"/><rect x="510.3" y="276" width="26.4" height="1" fill-opacity="0.301"/><rect x="510.2" y="277" width="26.5" height="1" fill-opacity="0.295"/><rect x="510.2" y="278" width="26.6" height="1" fill-opacity="0.289"/><rect x="510.2" y="279" width="26.6" height="1" fill-opacity="0.290"/><rect x="510.1" y="280" width="26.7" height="1" fill-opacity="0.306"/><rect x="510.1" y="281" width="26.8" height="1" fill-opacity="0.298"/><rect x="510.1" y="282" width="26.8" height="1" fill-opacity="0.258"/><rect x="510.1" y="283" width="26.9" height="1" fill-opacity="0.234"/><rect x="510.0" y="284" width="27.0" height="1" fill-opacity="0.220"/><rect x="510.0" y="285" width="27.0" height="1" fill-opacity="0.207"/><rect x="510.0" y="286" width="27.0" height="1" fill-opacity="0.183"/><rect x="510.0" y="287" width="27.0" height="1" fill-opacity="0.150"/><rect x="510.0" y="288" width="27.0" height="1" fill-opacity="0.117"/><rect x="510.0" y="289" width="27.0" height="1" fill-opacity="0.100"/><rect x="510.0" y="290" width="27.0" height="1" fill-opacity="0.099"/><rect x="510.0" y="291" width="27.0" height="1" fill-opacity="0.098"/><rect x="510.0" y="292" width="27.0" height="1" fill-opacity="0.097"/><rect x="510.0" y="293" width="27.0" height="1" fill-opacity="0.097"/><rect x="510.0" y="294" width="27.0" height="1" fill-opacity="0.096"/><rect x="510.0" y="295" width="27.0" height="1" fill-opacity="0.095"/><rect x="510.0" y="296" width="27.0" height="1" fill-opacity="0.094"/><rect x="510.0" y="297" width="27.0" height="1" fill-opacity="0.093"/><rect x="510.0" y="298" width="27.0" height="1" fill-opacity="0.093"/><rect x="510.0" y="299" width="27.0" height="1" fill-opacity="0.092"/><rect x="510.0" y="300" width="27.0" height="1" fill-opacity="0.091"/><rect x="510.0" y="301" width="27.0" height="1" fill-opacity="0.090"/><rect x="510.0" y="302" width="27.0" height="1" fill-opacity="0.090"/><rect x="510.0" y="303" width="27.0" height="1" fill-opacity="0.089"/><rect x="510.0" y="304" width="27.0" height="1" fill-opacity="0.088"/><rect x="510.0" y="305" width="27.0" height="1" fill-opacity="0.087"/><rect x="510.0" y="306" width="27.0" height="1" fill-opacity="0.087"/><rect x="510.0" y="307" width="27.0" height="1" fill-opacity="0.086"/><rect x="510.0" y="308" width="27.0" height="1" fill-opacity="0.085"/><rect x="510.0" y="309" width="27.0" height="1" fill-opacity="0.084"/><rect x="510.0" y="310" width="27.0" height="1" fill-opacity="0.083"/><rect x="510.0" y="311" width="27.0" height="1" fill-opacity="0.083"/><rect x="510.0" y="312" width="27.0" height="1" fill-opacity="0.082"/><rect x="510.0" y="313" width="27.0" height="1" fill-opacity="0.081"/><rect x="510.0" y="314" width="27.0" height="1" fill-opacity="0.080"/><rect x="510.0" y="315" width="27.0" height="1" fill-opacity="0.080"/><rect x="510.0" y="316" width="27.0" height="1" fill-opacity="0.080"/><rect x="510.0" y="317" width="27.0" height="1" fill-opacity="0.080"/><rect x="543.8" y="34" width="25.7" height="1" fill-opacity="0.130"/><rect x="543.8" y="35" width="25.7" height="1" fill-opacity="0.130"/><rect x="543.8" y="36" width="25.7" height="1" fill-opacity="0.130"/><rect x="543.8" y="37" width="25.7" height="1" fill-opacity="0.130"/><rect x="543.8" y="38" width="25.7" height="1" fill-opacity="0.132"/><rect x="543.8" y="39" width="25.7" height="1" fill-opacity="0.135"/><rect x="543.8" y="40" width="25.7" height="1" fill-opacity="0.138"/><rect x="543.8" y="41" width="25.7" height="1" fill-opacity="0.142"/><rect x="543.8" y="42" width="25.7" height="1" fill-opacity="0.145"/><rect x="543.7" y="43" width="25.7" height="1" fill-opacity="0.148"/><rect x="543.7" y="44" width="25.7" height="1" fill-opacity="0.151"/><rect x="543.7" y="45" width="25.7" height="1" fill-opacity="0.154"/><rect x="543.7" y="46" width="25.6" height="1" fill-opacity="0.156"/><rect x="543.7" y="47" width="25.6" height="1" fill-opacity="0.159"/><rect x="543.7" y="48" width="25.6" height="1" fill-opacity="0.161"/><rect x="543.7" y="49" width="25.6" height="1" fill-opacity="0.164"/><rect x="543.7" y="50" width="25.6" height="1" fill-opacity="0.166"/><rect x="543.7" y="51" width="25.6" height="1" fill-opacity="0.169"/><rect x="543.7" y="52" width="25.6" height="1" fill-opacity="0.171"/><rect x="543.7" y="53" width="25.6" height="1" fill-opacity="0.174"/><rect x="543.6" y="54" width="25.6" height="1" fill-opacity="0.176"/><rect x="543.6" y="55" width="25.6" height="1" fill-opacity="0.179"/><rect x="543.6" y="56" width="25.6" height="1" fill-opacity="0.181"/><rect x="543.6" y="57" width="25.6" height="1" fill-opacity="0.184"/><rect x="543.6" y="58" width="25.6" height="1" fill-opacity="0.186"/><rect x="543.6" y="59" width="25.6" height="1" fill-opacity="0.189"/><rect x="543.6" y="60" width="25.6" height="1" fill-opacity="0.193"/><rect x="543.6" y="61" width="25.6" height="1" fill-opacity="0.201"/><rect x="543.6" y="62" width="25.5" height="1" fill-opacity="0.217"/><rect x="543.6" y="63" width="25.5" height="1" fill-opacity="0.245"/><rect x="543.6" y="64" width="25.5" height="1" fill-opacity="0.276"/><rect x="543.5" y="65" width="25.5" height="1" fill-opacity="0.293"/><rect x="543.5" y="66" width="25.5" height="1" fill-opacity="0.285"/><rect x="543.5" y="67" width="25.5" height="1" fill-opacity="0.272"/><rect x="543.5" y="68" width="25.5" height="1" fill-opacity="0.287"/><rect x="543.5" y="69" width="25.5" height="1" fill-opacity="0.285"/><rect x="543.5" y="70" width="25.5" height="1" fill-opacity="0.270"/><rect x="543.6" y="71" width="25.4" height="1" fill-opacity="0.298"/><rect x="543.7" y="72" width="25.3" height="1" fill-opacity="0.358"/><rect x="543.8" y="73" width="25.2" height="1" fill-opacity="0.440"/><rect x="543.9" y="74" width="25.1" height="1" fill-opacity="0.523"/><rect x="544.0" y="75" width="25.0" height="1" fill-opacity="0.577"/><rect x="544.0" y="76" width="25.0" height="1" fill-opacity="0.580"/><rect x="544.1" y="77" width="24.9" height="1" fill-opacity="0.533"/><rect x="544.2" y="78" width="24.8" height="1" fill-opacity="0.465"/><rect x="544.3" y="79" width="24.7" height="1" fill-opacity="0.412"/><rect x="544.4" y="80" width="24.6" height="1" fill-opacity="0.400"/><rect x="544.5" y="81" width="24.5" height="1" fill-opacity="0.436"/><rect x="544.5" y="82" width="24.5" height="1" fill-opacity="0.510"/><rect x="544.6" y="83" width="24.4" height="1" fill-opacity="0.597"/><rect x="544.7" y="84" width="24.3" height="1" fill-opacity="0.666"/><rect x="544.8" y="85" width="24.2" height="1" fill-opacity="0.694"/><rect x="544.9" y="86" width="24.1" height="1" fill-opacity="0.668"/><rect x="545.0" y="87" width="24.0" height="1" fill-opacity="0.598"/><rect x="545.0" y="88" width="24.0" height="1" fill-opacity="0.507"/><rect x="545.1" y="89" width="23.9" height="1" fill-opacity="0.419"/><rect x="545.2" y="90" width="23.8" height="1" fill-opacity="0.351"/><rect x="545.3" y="91" width="23.7" height="1" fill-opacity="0.306"/><rect x="545.4" y="92" width="23.6" height="1" fill-opacity="0.281"/><rect x="545.5" y="93" width="23.5" height="1" fill-opacity="0.271"/><rect x="545.5" y="94" width="23.5" height="1" fill-opacity="0.279"/><rect x="545.6" y="95" width="23.4" height="1" fill-opacity="0.329"/><rect x="545.7" y="96" width="23.3" height="1" fill-opacity="0.427"/><rect x="545.8" y="97" width="23.2" height="1" fill-opacity="0.486"/><rect x="545.9" y="98" width="23.1" height="1" fill-opacity="0.429"/><rect x="546.0" y="99" width="23.0" height="1" fill-opacity="0.332"/><rect x="546.0" y="100" width="23.0" height="1" fill-opacity="0.283"/><rect x="546.0" y="101" width="23.0" height="1" fill-opacity="0.272"/><rect x="546.0" y="102" width="23.0" height="1" fill-opacity="0.272"/><rect x="546.1" y="103" width="23.0" height="1" fill-opacity="0.279"/><rect x="546.1" y="104" width="23.0" height="1" fill-opacity="0.323"/><rect x="546.1" y="105" width="23.0" height="1" fill-opacity="0.390"/><rect x="546.1" y="106" width="23.0" height="1" fill-opacity="0.364"/><rect x="546.1" y="107" width="23.0" height="1" fill-opacity="0.297"/><rect x="546.1" y="108" width="23.0" height="1" fill-opacity="0.279"/><rect x="546.2" y="109" width="23.0" height="1" fill-opacity="0.279"/><rect x="546.2" y="110" width="23.1" height="1" fill-opacity="0.282"/><rect x="546.2" y="111" width="23.1" height="1" fill-opacity="0.286"/><rect x="546.2" y="112" width="23.1" height="1" fill-opacity="0.291"/><rect x="546.2" y="113" width="23.1" height="1" fill-opacity="0.295"/><rect x="546.2" y="114" width="23.1" height="1" fill-opacity="0.299"/><rect x="546.3" y="115" width="23.1" height="1" fill-opacity="0.304"/><rect x="546.3" y="116" width="23.1" height="1" fill-opacity="0.308"/><rect x="546.3" y="117" width="23.1" height="1" fill-opacity="0.312"/><rect x="546.3" y="118" width="23.1" height="1" fill-opacity="0.316"/><rect x="546.3" y="119" width="23.1" height="1" fill-opacity="0.321"/><rect x="546.3" y="120" width="23.1" height="1" fill-opacity="0.325"/><rect x="546.4" y="121" width="23.1" height="1" fill-opacity="0.329"/><rect x="546.4" y="122" width="23.1" height="1" fill-opacity="0.334"/><rect x="546.4" y="123" width="23.1" height="1" fill-opacity="0.338"/><rect x="546.4" y="124" width="23.1" height="1" fill-opacity="0.345"/><rect x="546.4" y="125" width="23.1" height="1" fill-opacity="0.355"/><rect x="546.4" y="126" width="23.1" height="1" fill-opacity="0.365"/><rect x="546.5" y="127" width="23.1" height="1" fill-opacity="0.375"/><rect x="546.5" y="128" width="23.1" height="1" fill-opacity="0.385"/><rect x="546.5" y="129" width="23.1" height="1" fill-opacity="0.395"/><rect x="546.5" y="130" width="23.2" height="1" fill-opacity="0.405"/><rect x="546.5" y="131" width="23.2" height="1" fill-opacity="0.447"/><rect x="546.5" y="132" width="23.2" height="1" fill-opacity="0.436"/><rect x="546.6" y="133" width="23.2" height="1" fill-opacity="0.435"/><rect x="546.6" y="134" width="23.2" height="1" fill-opacity="0.448"/><rect x="546.6" y="135" width="23.2" height="1" fill-opacity="0.466"/><rect x="546.6" y="136" width="23.2" height="1" fill-opacity="0.505"/><rect x="546.6" y="137" width="23.2" height="1" fill-opacity="0.582"/><rect x="546.6" y="138" width="23.2" height="1" fill-opacity="0.634"/><rect x="546.7" y="139" width="23.2" height="1" fill-opacity="0.658"/><rect x="546.7" y="140" width="23.2" height="1" fill-opacity="0.658"/><rect x="546.7" y="141" width="23.2" height="1" fill-opacity="0.586"/><rect x="546.7" y="142" width="23.2" height="1" fill-opacity="0.521"/><rect x="546.7" y="143" width="23.2" height="1" fill-opacity="0.445"/><rect x="546.7" y="144" width="23.2" height="1" fill-opacity="0.405"/><rect x="546.8" y="145" width="23.2" height="1" fill-opacity="0.374"/><rect x="546.8" y="146" width="23.2" height="1" fill-opacity="0.363"/><rect x="546.8" y="147" width="23.2" height="1" fill-opacity="0.385"/><rect x="546.8" y="148" width="23.2" height="1" fill-opacity="0.384"/><rect x="546.8" y="149" width="23.2" height="1" fill-opacity="0.393"/><rect x="546.8" y="150" width="23.3" height="1" fill-opacity="0.483"/><rect x="546.9" y="151" width="23.3" height="1" fill-opacity="0.544"/><rect x="546.9" y="152" width="23.3" height="1" fill-opacity="0.463"/><rect x="546.9" y="153" width="23.3" height="1" fill-opacity="0.386"/><rect x="546.9" y="154" width="23.3" height="1" fill-opacity="0.375"/><rect x="546.9" y="155" width="23.3" height="1" fill-opacity="0.414"/><rect x="546.9" y="156" width="23.3" height="1" fill-opacity="0.537"/><rect x="547.0" y="157" width="23.3" height="1" fill-opacity="0.668"/><rect x="547.0" y="158" width="23.3" height="1" fill-opacity="0.680"/><rect x="547.0" y="159" width="23.3" height="1" fill-opacity="0.575"/><rect x="547.0" y="160" width="23.3" height="1" fill-opacity="0.468"/><rect x="547.0" y="161" width="23.3" height="1" fill-opacity="0.455"/><rect x="547.1" y="162" width="23.3" height="1" fill-opacity="0.436"/><rect x="547.1" y="163" width="23.3" height="1" fill-opacity="0.403"/><rect x="547.1" y="164" width="23.3" height="1" fill-opacity="0.382"/><rect x="547.1" y="165" width="23.3" height="1" fill-opacity="0.381"/><rect x="547.2" y="166" width="23.4" height="1" fill-opacity="0.417"/><rect x="547.2" y="167" width="23.4" height="1" fill-opacity="0.424"/><rect x="547.2" y="168" width="23.4" height="1" fill-opacity="0.386"/><rect x="547.2" y="169" width="23.4" height="1" fill-opacity="0.380"/><rect x="547.3" y="170" width="23.4" height="1" fill-opacity="0.380"/><rect x="547.3" y="171" width="23.4" height="1" fill-opacity="0.384"/><rect x="547.3" y="172" width="23.4" height="1" fill-opacity="0.406"/><rect x="547.3" y="173" width="23.4" height="1" fill-opacity="0.438"/><rect x="547.4" y="174" width="23.4" height="1" fill-opacity="0.419"/><rect x="547.4" y="175" width="23.4" height="1" fill-opacity="0.397"/><rect x="547.4" y="176" width="23.4" height="1" fill-opacity="0.423"/><rect x="547.4" y="177" width="23.5" height="1" fill-opacity="0.436"/><rect x="547.5" y="178" width="23.5" height="1" fill-opacity="0.401"/><rect x="547.5" y="179" width="23.5" height="1" fill-opacity="0.400"/><rect x="547.5" y="180" width="23.5" height="1" fill-opacity="0.470"/><rect x="547.5" y="181" width="23.5" height="1" fill-opacity="0.444"/><rect x="547.6" y="182" width="23.5" height="1" fill-opacity="0.391"/><rect x="547.6" y="183" width="23.5" height="1" fill-opacity="0.420"/><rect x="547.6" y="184" width="23.5" height="1" fill-opacity="0.575"/><rect x="547.6" y="185" width="23.5" height="1" fill-opacity="0.662"/><rect x="547.7" y="186" width="23.5" height="1" fill-opacity="0.516"/><rect x="547.7" y="187" width="23.5" height="1" fill-opacity="0.408"/><rect x="547.7" y="188" width="23.5" height="1" fill-opacity="0.399"/><rect x="547.7" y="189" width="23.6" height="1" fill-opacity="0.415"/><rect x="547.8" y="190" width="23.6" height="1" fill-opacity="0.411"/><rect x="547.8" y="191" width="23.6" height="1" fill-opacity="0.438"/><rect x="547.8" y="192" width="23.6" height="1" fill-opacity="0.439"/><rect x="547.8" y="193" width="23.6" height="1" fill-opacity="0.453"/><rect x="547.9" y="194" width="23.6" height="1" fill-opacity="0.453"/><rect x="547.9" y="195" width="23.6" height="1" fill-opacity="0.518"/><rect x="547.9" y="196" width="23.6" height="1" fill-opacity="0.640"/><rect x="547.9" y="197" width="23.6" height="1" fill-opacity="0.706"/><rect x="548.0" y="198" width="23.6" height="1" fill-opacity="0.627"/><rect x="548.0" y="199" width="23.6" height="1" fill-opacity="0.521"/><rect x="548.0" y="200" width="23.7" height="1" fill-opacity="0.432"/><rect x="548.0" y="201" width="23.7" height="1" fill-opacity="0.427"/><rect x="548.1" y="202" width="23.7" height="1" fill-opacity="0.424"/><rect x="548.1" y="203" width="23.7" height="1" fill-opacity="0.397"/><rect x="548.1" y="204" width="23.7" height="1" fill-opacity="0.397"/><rect x="548.1" y="205" width="23.7" height="1" fill-opacity="0.398"/><rect x="548.2" y="206" width="23.7" height="1" fill-opacity="0.398"/><rect x="548.2" y="207" width="23.7" height="1" fill-opacity="0.402"/><rect x="548.2" y="208" width="23.7" height="1" fill-opacity="0.427"/><rect x="548.2" y="209" width="23.7" height="1" fill-opacity="0.462"/><rect x="548.3" y="210" width="23.7" height="1" fill-opacity="0.442"/><rect x="548.3" y="211" width="23.8" height="1" fill-opacity="0.444"/><rect x="548.3" y="212" width="23.8" height="1" fill-opacity="0.448"/><rect x="548.3" y="213" width="23.8" height="1" fill-opacity="0.457"/><rect x="548.4" y="214" width="23.8" height="1" fill-opacity="0.435"/><rect x="548.4" y="215" width="23.8" height="1" fill-opacity="0.466"/><rect x="548.4" y="216" width="23.8" height="1" fill-opacity="0.492"/><rect x="548.4" y="217" width="23.8" height="1" fill-opacity="0.441"/><rect x="548.5" y="218" width="23.8" height="1" fill-opacity="0.415"/><rect x="548.5" y="219" width="23.8" height="1" fill-opacity="0.415"/><rect x="548.5" y="220" width="23.8" height="1" fill-opacity="0.423"/><rect x="548.5" y="221" width="23.8" height="1" fill-opacity="0.476"/><rect x="548.6" y="222" width="23.8" height="1" fill-opacity="0.517"/><rect x="548.6" y="223" width="23.9" height="1" fill-opacity="0.495"/><rect x="548.6" y="224" width="23.9" height="1" fill-opacity="0.461"/><rect x="548.6" y="225" width="23.9" height="1" fill-opacity="0.487"/><rect x="548.7" y="226" width="23.9" height="1" fill-opacity="0.520"/><rect x="548.7" y="227" width="23.9" height="1" fill-opacity="0.513"/><rect x="548.7" y="228" width="23.9" height="1" fill-opacity="0.490"/><rect x="548.7" y="229" width="23.9" height="1" fill-opacity="0.512"/><rect x="548.8" y="230" width="23.9" height="1" fill-opacity="0.523"/><rect x="548.8" y="231" width="23.9" height="1" fill-opacity="0.491"/><rect x="548.8" y="232" width="23.9" height="1" fill-opacity="0.485"/><rect x="548.8" y="233" width="23.9" height="1" fill-opacity="0.478"/><rect x="548.9" y="234" width="24.0" height="1" fill-opacity="0.469"/><rect x="548.9" y="235" width="24.0" height="1" fill-opacity="0.460"/><rect x="548.9" y="236" width="24.0" height="1" fill-opacity="0.451"/><rect x="548.9" y="237" width="24.0" height="1" fill-opacity="0.444"/><rect x="549.0" y="238" width="24.0" height="1" fill-opacity="0.465"/><rect x="549.0" y="239" width="24.0" height="1" fill-opacity="0.456"/><rect x="549.0" y="240" width="24.0" height="1" fill-opacity="0.511"/><rect x="549.0" y="241" width="24.0" height="1" fill-opacity="0.518"/><rect x="549.0" y="242" width="24.1" height="1" fill-opacity="0.535"/><rect x="549.0" y="243" width="24.1" height="1" fill-opacity="0.449"/><rect x="549.0" y="244" width="24.1" height="1" fill-opacity="0.435"/><rect x="549.0" y="245" width="24.1" height="1" fill-opacity="0.466"/><rect x="549.0" y="246" width="24.2" height="1" fill-opacity="0.443"/><rect x="549.0" y="247" width="24.2" height="1" fill-opacity="0.418"/><rect x="549.0" y="248" width="24.2" height="1" fill-opacity="0.418"/><rect x="549.0" y="249" width="24.2" height="1" fill-opacity="0.436"/><rect x="549.0" y="250" width="24.3" height="1" fill-opacity="0.471"/><rect x="549.0" y="251" width="24.3" height="1" fill-opacity="0.472"/><rect x="549.0" y="252" width="24.3" height="1" fill-opacity="0.437"/><rect x="549.0" y="253" width="24.3" height="1" fill-opacity="0.416"/><rect x="549.0" y="254" width="24.4" height="1" fill-opacity="0.412"/><rect x="549.0" y="255" width="24.4" height="1" fill-opacity="0.411"/><rect x="549.0" y="256" width="24.4" height="1" fill-opacity="0.411"/><rect x="549.0" y="257" width="24.4" height="1" fill-opacity="0.410"/><rect x="549.0" y="258" width="24.5" height="1" fill-opacity="0.410"/><rect x="549.0" y="259" width="24.5" height="1" fill-opacity="0.409"/><rect x="549.0" y="260" width="24.5" height="1" fill-opacity="0.409"/><rect x="549.0" y="261" width="24.5" height="1" fill-opacity="0.408"/><rect x="549.0" y="262" width="24.6" height="1" fill-opacity="0.408"/><rect x="549.0" y="263" width="24.6" height="1" fill-opacity="0.407"/><rect x="549.0" y="264" width="24.6" height="1" fill-opacity="0.411"/><rect x="549.0" y="265" width="24.6" height="1" fill-opacity="0.429"/><rect x="549.0" y="266" width="24.7" height="1" fill-opacity="0.429"/><rect x="549.0" y="267" width="24.7" height="1" fill-opacity="0.410"/><rect x="549.0" y="268" width="24.7" height="1" fill-opacity="0.424"/><rect x="549.0" y="269" width="24.7" height="1" fill-opacity="0.420"/><rect x="549.0" y="270" width="24.8" height="1" fill-opacity="0.404"/><rect x="549.0" y="271" width="24.8" height="1" fill-opacity="0.414"/><rect x="549.0" y="272" width="24.8" height="1" fill-opacity="0.446"/><rect x="549.0" y="273" width="24.8" height="1" fill-opacity="0.461"/><rect x="549.0" y="274" width="24.9" height="1" fill-opacity="0.465"/><rect x="549.0" y="275" width="24.9" height="1" fill-opacity="0.421"/><rect x="549.0" y="276" width="24.9" height="1" fill-opacity="0.402"/><rect x="549.0" y="277" width="24.9" height="1" fill-opacity="0.419"/><rect x="549.0" y="278" width="25.0" height="1" fill-opacity="0.453"/><rect x="549.0" y="279" width="25.0" height="1" fill-opacity="0.438"/><rect x="549.0" y="280" width="25.0" height="1" fill-opacity="0.348"/><rect x="549.0" y="281" width="25.0" height="1" fill-opacity="0.249"/><rect x="549.0" y="282" width="25.0" height="1" fill-opacity="0.174"/><rect x="549.0" y="283" width="25.0" height="1" fill-opacity="0.133"/><rect x="549.0" y="284" width="25.0" height="1" fill-opacity="0.118"/><rect x="549.0" y="285" width="25.0" height="1" fill-opacity="0.103"/><rect x="549.0" y="286" width="25.0" height="1" fill-opacity="0.087"/><rect x="549.0" y="287" width="25.0" height="1" fill-opacity="0.080"/><rect x="549.0" y="288" width="25.0" height="1" fill-opacity="0.079"/><rect x="549.0" y="289" width="25.0" height="1" fill-opacity="0.078"/><rect x="549.0" y="290" width="25.0" height="1" fill-opacity="0.077"/><rect x="549.0" y="291" width="25.0" height="1" fill-opacity="0.077"/><rect x="549.0" y="292" width="25.0" height="1" fill-opacity="0.076"/><rect x="549.0" y="293" width="25.0" height="1" fill-opacity="0.075"/><rect x="549.0" y="294" width="25.0" height="1" fill-opacity="0.075"/><rect x="549.0" y="295" width="25.0" height="1" fill-opacity="0.074"/><rect x="549.0" y="296" width="25.0" height="1" fill-opacity="0.073"/><rect x="549.0" y="297" width="25.0" height="1" fill-opacity="0.072"/><rect x="549.0" y="298" width="25.0" height="1" fill-opacity="0.072"/><rect x="549.0" y="299" width="25.0" height="1" fill-opacity="0.071"/><rect x="549.0" y="300" width="25.0" height="1" fill-opacity="0.070"/><rect x="549.0" y="301" width="25.0" height="1" fill-opacity="0.070"/><rect x="549.0" y="302" width="25.0" height="1" fill-opacity="0.069"/><rect x="549.0" y="303" width="25.0" height="1" fill-opacity="0.068"/><rect x="549.0" y="304" width="25.0" height="1" fill-opacity="0.068"/><rect x="549.0" y="305" width="25.0" height="1" fill-opacity="0.067"/><rect x="549.0" y="306" width="25.0" height="1" fill-opacity="0.066"/><rect x="549.0" y="307" width="25.0" height="1" fill-opacity="0.065"/><rect x="549.0" y="308" width="25.0" height="1" fill-opacity="0.065"/><rect x="549.0" y="309" width="25.0" height="1" fill-opacity="0.064"/><rect x="549.0" y="310" width="25.0" height="1" fill-opacity="0.063"/><rect x="549.0" y="311" width="25.0" height="1" fill-opacity="0.062"/><rect x="549.0" y="312" width="25.0" height="1" fill-opacity="0.062"/><rect x="549.0" y="313" width="25.0" height="1" fill-opacity="0.061"/><rect x="549.0" y="314" width="25.0" height="1" fill-opacity="0.060"/><rect x="549.0" y="315" width="25.0" height="1" fill-opacity="0.060"/><rect x="549.0" y="316" width="25.0" height="1" fill-opacity="0.060"/><rect x="549.0" y="317" width="25.0" height="1" fill-opacity="0.060"/><rect x="586.5" y="229" width="27.0" height="1" fill-opacity="0.005"/><rect x="586.5" y="230" width="27.0" height="1" fill-opacity="0.013"/><rect x="586.5" y="231" width="27.0" height="1" fill-opacity="0.030"/><rect x="586.5" y="232" width="27.0" height="1" fill-opacity="0.057"/><rect x="586.5" y="233" width="27.0" height="1" fill-opacity="0.075"/><rect x="586.5" y="234" width="27.0" height="1" fill-opacity="0.070"/><rect x="586.5" y="235" width="27.0" height="1" fill-opacity="0.055"/><rect x="586.5" y="236" width="27.0" height="1" fill-opacity="0.045"/><rect x="586.5" y="237" width="27.0" height="1" fill-opacity="0.041"/><rect x="586.5" y="238" width="27.0" height="1" fill-opacity="0.037"/><rect x="586.5" y="239" width="27.0" height="1" fill-opacity="0.031"/><rect x="586.5" y="240" width="27.0" height="1" fill-opacity="0.025"/><rect x="586.5" y="241" width="27.0" height="1" fill-opacity="0.018"/><rect x="586.5" y="242" width="27.0" height="1" fill-opacity="0.012"/><rect x="586.5" y="243" width="27.0" height="1" fill-opacity="0.007"/><rect x="586.5" y="244" width="27.0" height="1" fill-opacity="0.004"/><rect x="586.5" y="297" width="27.0" height="1" fill-opacity="0.007"/><rect x="586.5" y="298" width="27.0" height="1" fill-opacity="0.013"/><rect x="586.5" y="299" width="27.0" height="1" fill-opacity="0.022"/><rect x="586.5" y="300" width="27.0" height="1" fill-opacity="0.033"/><rect x="586.5" y="301" width="27.0" height="1" fill-opacity="0.044"/><rect x="586.5" y="302" width="27.0" height="1" fill-opacity="0.054"/><rect x="586.5" y="303" width="27.0" height="1" fill-opacity="0.059"/><rect x="586.5" y="304" width="27.0" height="1" fill-opacity="0.059"/><rect x="586.5" y="305" width="27.0" height="1" fill-opacity="0.054"/><rect x="586.5" y="306" width="27.0" height="1" fill-opacity="0.044"/><rect x="586.5" y="307" width="27.0" height="1" fill-opacity="0.033"/><rect x="586.5" y="308" width="27.0" height="1" fill-opacity="0.022"/><rect x="586.5" y="309" width="27.0" height="1" fill-opacity="0.013"/><rect x="586.5" y="310" width="27.0" height="1" fill-opacity="0.007"/><rect x="478" y="40" width="1.2" height="80" fill-opacity="0.05"/><rect x="490" y="40" width="1.2" height="70" fill-opacity="0.04"/><rect x="515" y="40" width="1.2" height="60" fill-opacity="0.04"/><rect x="527" y="45" width="1.2" height="75" fill-opacity="0.05"/><rect x="550" y="40" width="1.2" height="70" fill-opacity="0.06"/><rect x="560" y="40" width="1.2" height="75" fill-opacity="0.05"/><rect x="565" y="42" width="1.2" height="58" fill-opacity="0.04"/><rect x="469.5" y="289.3" width="30" height="7.4" rx="3.7" fill-opacity="0.74"/><rect x="509.5" y="289.5" width="29" height="7.2" rx="3.6" fill-opacity="0.72"/><rect x="544.5" y="288.2" width="36" height="8.8" rx="4.4" fill-opacity="0.97"/><rect x="587" y="287.3" width="26.5" height="7.0" rx="3.5" fill-opacity="0.70"/><rect x="455" y="30" width="175" height="290" fill="url(#gshade)"/><rect x="463" y="38.3" width="8" height="276.3" fill-opacity="0.06"/><circle cx="601.5" cy="73.5" r="1" fill-opacity="0.25"/><circle cx="591" cy="106" r="0.8" fill-opacity="0.2"/><circle cx="504.5" cy="284.5" r="1" fill-opacity="0.25"/></g></g>
<text x="460.00" y="92.20" font-size="13.4" text-anchor="end">250</text>
<line x1="459.80" y1="88.40" x2="463.20" y2="88.40" stroke="#111" stroke-width="1.4"/>
<text x="456.20" y="114.20" font-size="13.4" text-anchor="end">124</text>
<line x1="460.20" y1="110.40" x2="463.20" y2="110.40" stroke="#111" stroke-width="1.4"/>
<text x="456.20" y="132.30" font-size="13.4" text-anchor="end">91</text>
<line x1="460.20" y1="128.50" x2="463.20" y2="128.50" stroke="#111" stroke-width="1.4"/>
<text x="456.20" y="150.00" font-size="13.4" text-anchor="end">71</text>
<line x1="460.20" y1="146.20" x2="463.20" y2="146.20" stroke="#111" stroke-width="1.4"/>
<text x="456.20" y="170.30" font-size="13.4" text-anchor="end">54</text>
<line x1="460.20" y1="166.50" x2="463.20" y2="166.50" stroke="#111" stroke-width="1.4"/>
<text x="456.20" y="194.40" font-size="13.4" text-anchor="end">43</text>
<line x1="460.20" y1="190.60" x2="463.20" y2="190.60" stroke="#111" stroke-width="1.4"/>
<text x="456.20" y="217.90" font-size="13.4" text-anchor="end">33</text>
<line x1="460.20" y1="214.10" x2="463.20" y2="214.10" stroke="#111" stroke-width="1.4"/>
<text x="456.20" y="235.90" font-size="13.4" text-anchor="end">29</text>
<line x1="460.20" y1="232.10" x2="463.20" y2="232.10" stroke="#111" stroke-width="1.4"/>
<text x="456.20" y="278.20" font-size="13.4" text-anchor="end">16</text>
<line x1="460.20" y1="274.40" x2="463.20" y2="274.40" stroke="#111" stroke-width="1.4"/>
<text x="456.20" y="308.60" font-size="13.4" text-anchor="end">10</text>
<line x1="460.20" y1="304.80" x2="463.20" y2="304.80" stroke="#111" stroke-width="1.4"/>
<polygon points="621.6,289.8 637.8,285.6 637.8,294.0" fill="#000"/>
<text x="29.50" y="372.50" font-size="20" text-anchor="start" font-weight="bold">C</text>
<rect x="85.00" y="398.00" width="56.30" height="223.80" fill="#c1c100"/>
<rect x="167.50" y="474.09" width="55.80" height="147.71" fill="#ff8000"/>
<rect x="250.00" y="424.41" width="55.60" height="197.39" fill="#5858ff"/>
<line x1="195.50" y1="471.10" x2="195.50" y2="478.20" stroke="#111" stroke-width="1.7"/>
<line x1="188.30" y1="471.10" x2="202.70" y2="471.10" stroke="#111" stroke-width="1.7"/>
<line x1="188.30" y1="478.20" x2="202.70" y2="478.20" stroke="#111" stroke-width="1.7"/>
<line x1="277.80" y1="410.50" x2="277.80" y2="439.30" stroke="#111" stroke-width="1.7"/>
<line x1="270.80" y1="410.50" x2="284.80" y2="410.50" stroke="#111" stroke-width="1.7"/>
<line x1="270.80" y1="439.30" x2="284.80" y2="439.30" stroke="#111" stroke-width="1.7"/>
<line x1="72.10" y1="375.50" x2="72.10" y2="622.90" stroke="#111" stroke-width="2.2"/>
<line x1="64.00" y1="621.80" x2="319.60" y2="621.80" stroke="#111" stroke-width="2.2"/>
<line x1="64.00" y1="621.80" x2="72.10" y2="621.80" stroke="#111" stroke-width="2.0"/>
<text x="61.80" y="627.30" font-size="16.3" text-anchor="end" textLength="9.88" lengthAdjust="spacingAndGlyphs">0</text>
<line x1="67.40" y1="599.42" x2="72.10" y2="599.42" stroke="#111" stroke-width="2.0"/>
<line x1="64.00" y1="577.04" x2="72.10" y2="577.04" stroke="#111" stroke-width="2.0"/>
<text x="61.80" y="582.54" font-size="16.3" text-anchor="end" textLength="19.76" lengthAdjust="spacingAndGlyphs">20</text>
<line x1="67.40" y1="554.66" x2="72.10" y2="554.66" stroke="#111" stroke-width="2.0"/>
<line x1="64.00" y1="532.28" x2="72.10" y2="532.28" stroke="#111" stroke-width="2.0"/>
<text x="61.80" y="537.78" font-size="16.3" text-anchor="end" textLength="19.76" lengthAdjust="spacingAndGlyphs">40</text>
<line x1="67.40" y1="509.90" x2="72.10" y2="509.90" stroke="#111" stroke-width="2.0"/>
<line x1="64.00" y1="487.52" x2="72.10" y2="487.52" stroke="#111" stroke-width="2.0"/>
<text x="61.80" y="493.02" font-size="16.3" text-anchor="end" textLength="19.76" lengthAdjust="spacingAndGlyphs">60</text>
<line x1="67.40" y1="465.14" x2="72.10" y2="465.14" stroke="#111" stroke-width="2.0"/>
<line x1="64.00" y1="442.76" x2="72.10" y2="442.76" stroke="#111" stroke-width="2.0"/>
<text x="61.80" y="448.26" font-size="16.3" text-anchor="end" textLength="19.76" lengthAdjust="spacingAndGlyphs">80</text>
<line x1="67.40" y1="420.38" x2="72.10" y2="420.38" stroke="#111" stroke-width="2.0"/>
<line x1="64.00" y1="398.00" x2="72.10" y2="398.00" stroke="#111" stroke-width="2.0"/>
<text x="61.80" y="403.50" font-size="16.3" text-anchor="end" textLength="29.64" lengthAdjust="spacingAndGlyphs">100</text>
<line x1="67.40" y1="375.62" x2="72.10" y2="375.62" stroke="#111" stroke-width="2.0"/>
<line x1="112.80" y1="621.80" x2="112.80" y2="629.30" stroke="#111" stroke-width="2.0"/>
<line x1="195.40" y1="621.80" x2="195.40" y2="629.30" stroke="#111" stroke-width="2.0"/>
<line x1="278.00" y1="621.80" x2="278.00" y2="629.30" stroke="#111" stroke-width="2.0"/>
<text x="112.80" y="644.80" font-size="16.3" text-anchor="middle" textLength="38.94" lengthAdjust="spacingAndGlyphs">CON</text>
<text x="195.40" y="644.80" font-size="16.3" text-anchor="middle" textLength="22.39" lengthAdjust="spacingAndGlyphs">BZ</text>
<text x="278.00" y="644.80" font-size="16.3" text-anchor="middle" textLength="31.18" lengthAdjust="spacingAndGlyphs">E64</text>
<text x="119.50" y="672.40" font-size="20" text-anchor="start" font-weight="bold" textLength="172.30" lengthAdjust="spacingAndGlyphs">Treatment groups</text>
<text transform="translate(19.20,605.60) rotate(-90)" font-size="20.2" font-weight="bold" textLength="211.85" lengthAdjust="spacingAndGlyphs">Hemozoin (% of CON)</text>
<line x1="105.80" y1="371.90" x2="267.60" y2="371.90" stroke="#1c1c1c" stroke-width="1.5"/>
<line x1="105.80" y1="364.90" x2="105.80" y2="378.80" stroke="#1c1c1c" stroke-width="1.5"/>
<line x1="267.60" y1="364.90" x2="267.60" y2="378.80" stroke="#1c1c1c" stroke-width="1.5"/>
<line x1="105.80" y1="389.30" x2="200.20" y2="389.30" stroke="#1c1c1c" stroke-width="1.5"/>
<line x1="105.80" y1="382.40" x2="105.80" y2="396.20" stroke="#1c1c1c" stroke-width="1.5"/>
<line x1="200.20" y1="382.40" x2="200.20" y2="396.20" stroke="#1c1c1c" stroke-width="1.5"/>
<line x1="195.80" y1="405.30" x2="291.30" y2="405.30" stroke="#1c1c1c" stroke-width="1.5"/>
<line x1="195.80" y1="397.60" x2="195.80" y2="412.00" stroke="#1c1c1c" stroke-width="1.5"/>
<line x1="291.30" y1="397.60" x2="291.30" y2="412.00" stroke="#1c1c1c" stroke-width="1.5"/>
<text x="196.60" y="372.90" font-size="19" text-anchor="middle" font-weight="bold">*</text>
<text x="153.60" y="393.00" font-size="19" text-anchor="middle" font-weight="bold" letter-spacing="1.4">***</text>
<text x="247.90" y="405.60" font-size="19" text-anchor="middle" font-weight="bold">*</text>
<text x="371.50" y="371.70" font-size="20" text-anchor="start" font-weight="bold">D</text>
<rect x="439.80" y="566.53" width="55.80" height="54.57" fill="#c1c100"/>
<rect x="523.00" y="442.38" width="54.90" height="178.72" fill="#ff8000"/>
<rect x="605.00" y="577.33" width="55.40" height="43.77" fill="#5858ff"/>
<line x1="550.40" y1="390.80" x2="550.40" y2="494.60" stroke="#111" stroke-width="1.7"/>
<line x1="543.30" y1="390.80" x2="557.50" y2="390.80" stroke="#111" stroke-width="1.7"/>
<line x1="543.30" y1="494.60" x2="557.50" y2="494.60" stroke="#111" stroke-width="1.7"/>
<line x1="632.50" y1="571.00" x2="632.50" y2="583.40" stroke="#111" stroke-width="1.7"/>
<line x1="625.50" y1="571.00" x2="639.50" y2="571.00" stroke="#111" stroke-width="1.7"/>
<line x1="625.50" y1="583.40" x2="639.50" y2="583.40" stroke="#111" stroke-width="1.7"/>
<line x1="427.10" y1="374.00" x2="427.10" y2="622.20" stroke="#111" stroke-width="2.2"/>
<line x1="419.30" y1="621.10" x2="675.00" y2="621.10" stroke="#111" stroke-width="2.2"/>
<line x1="419.30" y1="621.10" x2="427.10" y2="621.10" stroke="#111" stroke-width="2.0"/>
<text x="416.90" y="626.60" font-size="16.3" text-anchor="end" textLength="9.79" lengthAdjust="spacingAndGlyphs">0</text>
<line x1="422.20" y1="607.46" x2="427.10" y2="607.46" stroke="#111" stroke-width="2.0"/>
<line x1="422.20" y1="593.82" x2="427.10" y2="593.82" stroke="#111" stroke-width="2.0"/>
<line x1="422.20" y1="580.17" x2="427.10" y2="580.17" stroke="#111" stroke-width="2.0"/>
<line x1="419.30" y1="566.53" x2="427.10" y2="566.53" stroke="#111" stroke-width="2.0"/>
<text x="416.90" y="572.03" font-size="16.3" text-anchor="end" textLength="29.37" lengthAdjust="spacingAndGlyphs">100</text>
<line x1="422.20" y1="552.89" x2="427.10" y2="552.89" stroke="#111" stroke-width="2.0"/>
<line x1="422.20" y1="539.25" x2="427.10" y2="539.25" stroke="#111" stroke-width="2.0"/>
<line x1="422.20" y1="525.60" x2="427.10" y2="525.60" stroke="#111" stroke-width="2.0"/>
<line x1="419.30" y1="511.96" x2="427.10" y2="511.96" stroke="#111" stroke-width="2.0"/>
<text x="416.90" y="517.46" font-size="16.3" text-anchor="end" textLength="29.37" lengthAdjust="spacingAndGlyphs">200</text>
<line x1="422.20" y1="498.32" x2="427.10" y2="498.32" stroke="#111" stroke-width="2.0"/>
<line x1="422.20" y1="484.68" x2="427.10" y2="484.68" stroke="#111" stroke-width="2.0"/>
<line x1="422.20" y1="471.03" x2="427.10" y2="471.03" stroke="#111" stroke-width="2.0"/>
<line x1="419.30" y1="457.39" x2="427.10" y2="457.39" stroke="#111" stroke-width="2.0"/>
<text x="416.90" y="462.89" font-size="16.3" text-anchor="end" textLength="29.37" lengthAdjust="spacingAndGlyphs">300</text>
<line x1="422.20" y1="443.75" x2="427.10" y2="443.75" stroke="#111" stroke-width="2.0"/>
<line x1="422.20" y1="430.11" x2="427.10" y2="430.11" stroke="#111" stroke-width="2.0"/>
<line x1="422.20" y1="416.46" x2="427.10" y2="416.46" stroke="#111" stroke-width="2.0"/>
<line x1="419.30" y1="402.82" x2="427.10" y2="402.82" stroke="#111" stroke-width="2.0"/>
<text x="416.90" y="408.32" font-size="16.3" text-anchor="end" textLength="29.37" lengthAdjust="spacingAndGlyphs">400</text>
<line x1="422.20" y1="389.18" x2="427.10" y2="389.18" stroke="#111" stroke-width="2.0"/>
<line x1="422.20" y1="375.54" x2="427.10" y2="375.54" stroke="#111" stroke-width="2.0"/>
<line x1="422.20" y1="374.60" x2="427.10" y2="374.60" stroke="#111" stroke-width="2.0"/>
<line x1="468.00" y1="621.10" x2="468.00" y2="628.90" stroke="#111" stroke-width="2.0"/>
<line x1="550.40" y1="621.10" x2="550.40" y2="628.90" stroke="#111" stroke-width="2.0"/>
<line x1="632.30" y1="621.10" x2="632.30" y2="628.90" stroke="#111" stroke-width="2.0"/>
<text x="468.00" y="644.60" font-size="16.3" text-anchor="middle" textLength="38.40" lengthAdjust="spacingAndGlyphs">CON</text>
<text x="550.40" y="644.60" font-size="16.3" text-anchor="middle" textLength="22.08" lengthAdjust="spacingAndGlyphs">BZ</text>
<text x="632.30" y="644.60" font-size="16.3" text-anchor="middle" textLength="30.74" lengthAdjust="spacingAndGlyphs">E64</text>
<text x="464.80" y="672.50" font-size="20" text-anchor="start" font-weight="bold" textLength="172.30" lengthAdjust="spacingAndGlyphs">Treatment groups</text>
<text transform="translate(376.60,585.10) rotate(-90)" font-size="20" font-weight="bold" textLength="171.20" lengthAdjust="spacingAndGlyphs">Heme (% of CON)</text>
<line x1="465.60" y1="378.30" x2="548.30" y2="378.30" stroke="#1c1c1c" stroke-width="1.5"/>
<line x1="465.60" y1="371.60" x2="465.60" y2="385.20" stroke="#1c1c1c" stroke-width="1.5"/>
<line x1="548.30" y1="371.60" x2="548.30" y2="385.20" stroke="#1c1c1c" stroke-width="1.5"/>
<line x1="556.40" y1="378.30" x2="638.60" y2="378.30" stroke="#1c1c1c" stroke-width="1.5"/>
<line x1="556.40" y1="371.60" x2="556.40" y2="385.20" stroke="#1c1c1c" stroke-width="1.5"/>
<line x1="638.60" y1="371.60" x2="638.60" y2="385.20" stroke="#1c1c1c" stroke-width="1.5"/>
<text x="499.00" y="381.00" font-size="16.5" text-anchor="middle">*</text>
<text x="596.50" y="381.00" font-size="16.5" text-anchor="middle">*</text>
</svg>
</body></html>
